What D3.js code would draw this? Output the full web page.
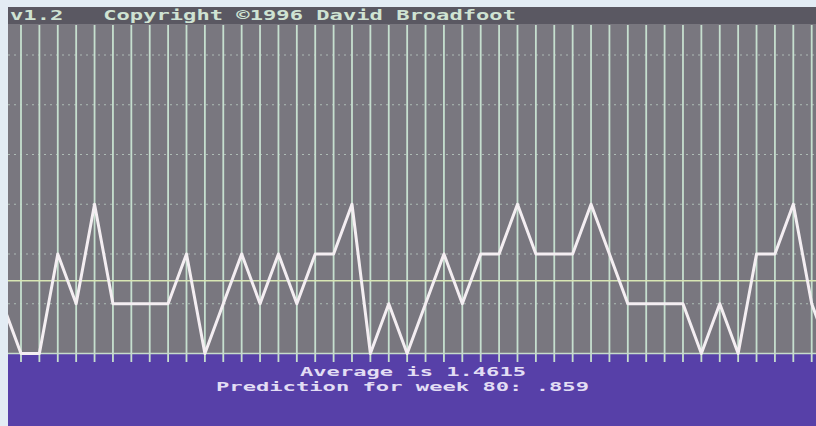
<!DOCTYPE html>
<html>
<head>
<meta charset="utf-8">
<script src="https://cdn.jsdelivr.net/npm/d3@7"></script>
<style>
  html, body { margin: 0; padding: 0; background: #e3ecf4; }
  svg { display: block; }
  text { white-space: pre; }
</style>
</head>
<body>
<svg id="chart" width="816" height="426"></svg>
<script>
// Weekly scores, one per column; the first and last entries run off the edges of the screen.
const weekIndex = d3.range(-1, 45);
const scores = [1,
  0, 0, 2, 1, 3, 1, 1, 1, 1, 2,
  0, 1, 2, 1, 2, 1, 2, 2, 3, 0,
  1, 0, 1, 2, 1, 2, 2, 3, 2, 2,
  2, 3, 2, 1, 1, 1, 1, 0, 1, 0,
  2, 2, 3, 1,
  0];
const gridColumns = d3.range(0, 44);
const levelTicks = [1, 2, 3, 4, 5, 6];
const average = 1.4615;
const predictionWeek = 80;
const prediction = ".859";
const titleText = "v1.2   Copyright \u00A91996 David Broadfoot";

const svg = d3.select("#chart");

const screen = { left: 8, top: 7, right: 816, bottom: 426 };
const titleBottom = 24;
const plotBottom = 354;

const x = d3.scaleLinear().domain([0, 43]).range([21, 811.7]);
const y = d3.scaleLinear().domain([0, 6]).range([353.5, 55]);

// Screen panels
svg.append("rect")
  .attr("x", screen.left).attr("y", screen.top)
  .attr("width", screen.right - screen.left).attr("height", titleBottom - screen.top)
  .attr("fill", "#5a5862");
svg.append("rect")
  .attr("x", screen.left).attr("y", titleBottom)
  .attr("width", screen.right - screen.left).attr("height", plotBottom - titleBottom)
  .attr("fill", "#79777f");
svg.append("rect")
  .attr("x", screen.left).attr("y", plotBottom)
  .attr("width", screen.right - screen.left).attr("height", screen.bottom - plotBottom)
  .attr("fill", "#5740a8");

svg.append("clipPath").attr("id", "plotClip")
  .append("rect")
  .attr("x", screen.left).attr("y", titleBottom)
  .attr("width", screen.right - screen.left).attr("height", 340);

const plot = svg.append("g").attr("clip-path", "url(#plotClip)");

// Dotted level lines
plot.append("g").selectAll("line")
  .data(levelTicks).join("line")
  .attr("x1", screen.left).attr("x2", screen.right)
  .attr("y1", d => y(d)).attr("y2", d => y(d))
  .attr("stroke", "#c0d2c8").attr("stroke-width", 1.2)
  .attr("stroke-dasharray", "2,4").attr("opacity", 0.75);

// Vertical week columns, with short ticks below the baseline
plot.append("g").selectAll("line")
  .data(gridColumns).join("line")
  .attr("x1", d => x(d)).attr("x2", d => x(d))
  .attr("y1", titleBottom + 1).attr("y2", 362)
  .attr("stroke", "#c6dfcf").attr("stroke-width", 1.8);

// Baseline
plot.append("line")
  .attr("x1", screen.left).attr("x2", screen.right)
  .attr("y1", y(0)).attr("y2", y(0))
  .attr("stroke", "#c6dccb").attr("stroke-width", 1.5);

// Average line
plot.append("line")
  .attr("x1", screen.left).attr("x2", screen.right)
  .attr("y1", y(average)).attr("y2", y(average))
  .attr("stroke", "#d8e6b4").attr("stroke-width", 1.6);

// Score trace
const line = d3.line()
  .x((d, i) => x(weekIndex[i]))
  .y(d => y(d));
plot.append("path")
  .datum(scores)
  .attr("d", line)
  .attr("fill", "none")
  .attr("stroke", "#f4eef2")
  .attr("stroke-width", 3)
  .attr("stroke-linejoin", "round");

// Text
const font = "'DejaVu Sans Mono', 'Liberation Mono', monospace";
svg.append("text")
  .attr("x", 10).attr("y", 19.5)
  .attr("textLength", 506).attr("lengthAdjust", "spacingAndGlyphs")
  .attr("font-family", font).attr("font-weight", "bold").attr("font-size", 14.5)
  .attr("fill", "#cfe3d3")
  .text(titleText);

svg.append("text")
  .attr("x", 300).attr("y", 375.5)
  .attr("textLength", 226).attr("lengthAdjust", "spacingAndGlyphs")
  .attr("font-family", font).attr("font-weight", "bold").attr("font-size", 12.8)
  .attr("fill", "#e2ddf4")
  .text("Average is " + average);

svg.append("text")
  .attr("x", 216).attr("y", 390.5)
  .attr("textLength", 373).attr("lengthAdjust", "spacingAndGlyphs")
  .attr("font-family", font).attr("font-weight", "bold").attr("font-size", 12.8)
  .attr("fill", "#e2ddf4")
  .text("Prediction for week " + predictionWeek + ": " + prediction);
</script>
</body>
</html>
